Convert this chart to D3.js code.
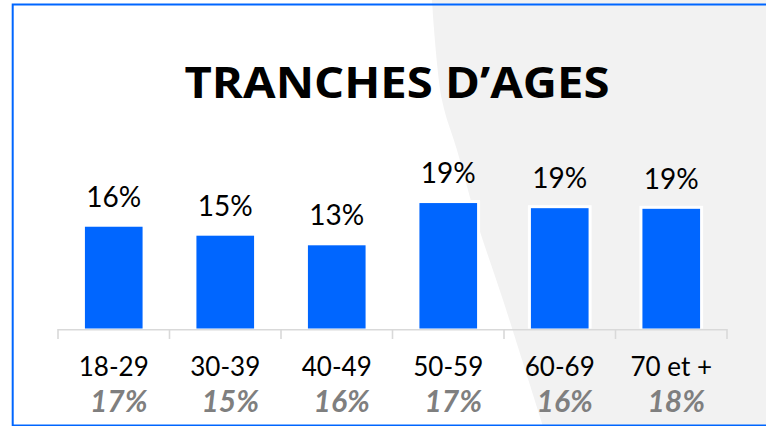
<!DOCTYPE html>
<html>
<head>
<meta charset="utf-8">
<script src="https://cdn.jsdelivr.net/npm/d3@7"></script>
<style>
  html, body { margin: 0; padding: 0; background: #fff; }
  svg { display: block; font-family: Lato, "Open Sans", sans-serif; }
</style>
</head>
<body>
<div id="chart"></div>
<script>
var categories  = ["18-29", "30-39", "40-49", "50-59", "60-69", "70 et +"];
var values      = [15.9, 14.5, 13.0, 19.6, 18.8, 18.7];
var valueLabels = ["16%", "15%", "13%", "19%", "19%", "19%"];
var refLabels   = ["17%", "15%", "16%", "17%", "16%", "18%"];

var width = 766, height = 426;

var svg = d3.select("#chart").append("svg")
    .attr("width", width).attr("height", height)
    .attr("viewBox", "0 0 " + width + " " + height);

// grey decorative background on the right
var curve = [[432, 0], [442, 100], [457, 150], [478, 225], [503, 300], [543, 426]];
var shape = d3.line().curve(d3.curveCatmullRom);
svg.append("path")
    .attr("d", shape(curve) + "L" + width + "," + height + "L" + width + ",0Z")
    .attr("fill", "#f2f2f2");

// frame
svg.append("rect")
    .attr("x", 12.7).attr("y", 4.5)
    .attr("width", 800).attr("height", 421)
    .attr("fill", "none")
    .attr("stroke", "#0066ff")
    .attr("stroke-width", 2);

svg.append("text")
    .attr("x", 397)
    .attr("y", 97.5)
    .attr("text-anchor", "middle")
    .attr("font-family", "'Open Sans', sans-serif")
    .attr("font-size", 43)
    .attr("font-weight", 700)
    .attr("fill", "#000")
    .attr("textLength", 425)
    .attr("lengthAdjust", "spacingAndGlyphs")
    .text("TRANCHES D\u2019AGES");

var x = d3.scaleBand().domain(categories).range([58, 727]).paddingInner(0.483).paddingOuter(0.2415);
var y = d3.scaleLinear().domain([0, 20]).range([328.5, 200.5]);

var gap = (x.step() - x.bandwidth()) / 2;
var tickPos = categories.map(function(c) { return x(c) - gap; });
tickPos.push(x(categories[categories.length - 1]) + x.bandwidth() + gap);

var axis = svg.append("g").attr("class", "axis");
axis.append("line")
    .attr("x1", tickPos[0]).attr("x2", tickPos[tickPos.length - 1])
    .attr("y1", 329.8).attr("y2", 329.8)
    .attr("stroke", "#d9d9d9").attr("stroke-width", 1.6);
axis.selectAll("line.tick").data(tickPos).enter().append("line")
    .attr("class", "tick")
    .attr("x1", function(d) { return d; }).attr("x2", function(d) { return d; })
    .attr("y1", 329).attr("y2", 339)
    .attr("stroke", "#d9d9d9").attr("stroke-width", 1.6);

var bars = svg.append("g");
bars.selectAll("rect.halo").data(values).enter().append("rect")
    .attr("class", "halo")
    .attr("x", function(d, i) { return x(categories[i]) - 3; })
    .attr("y", function(d) { return y(d) - 3; })
    .attr("width", x.bandwidth() + 6)
    .attr("height", function(d) { return y(0) - y(d) + 3; })
    .attr("fill", "#fff");
bars.selectAll("rect.bar").data(values).enter().append("rect")
    .attr("class", "bar")
    .attr("x", function(d, i) { return x(categories[i]); })
    .attr("y", function(d) { return y(d); })
    .attr("width", x.bandwidth())
    .attr("height", function(d) { return y(0) - y(d); })
    .attr("fill", "#0066ff");

svg.append("g").selectAll("text").data(values).enter().append("text")
    .attr("x", function(d, i) { return x(categories[i]) + x.bandwidth() / 2; })
    .attr("y", function(d) { return y(d) - 20; })
    .attr("text-anchor", "middle")
    .attr("font-size", 28)
    .attr("fill", "#000")
    .text(function(d, i) { return valueLabels[i]; });

svg.append("g").selectAll("text").data(categories).enter().append("text")
    .attr("x", function(d) { return x(d) + x.bandwidth() / 2; })
    .attr("y", 376)
    .attr("text-anchor", "middle")
    .attr("font-size", 26)
    .attr("fill", "#000")
    .text(function(d) { return d; });

svg.append("g").selectAll("text").data(refLabels).enter().append("text")
    .attr("x", function(d, i) { return x(categories[i]) + x.bandwidth() / 2 + 5; })
    .attr("y", 412)
    .attr("text-anchor", "middle")
    .attr("font-size", 30)
    .attr("font-weight", 700)
    .attr("font-style", "italic")
    .attr("fill", "#7f7f7f")
    .text(function(d) { return d; });
</script>
</body>
</html>
